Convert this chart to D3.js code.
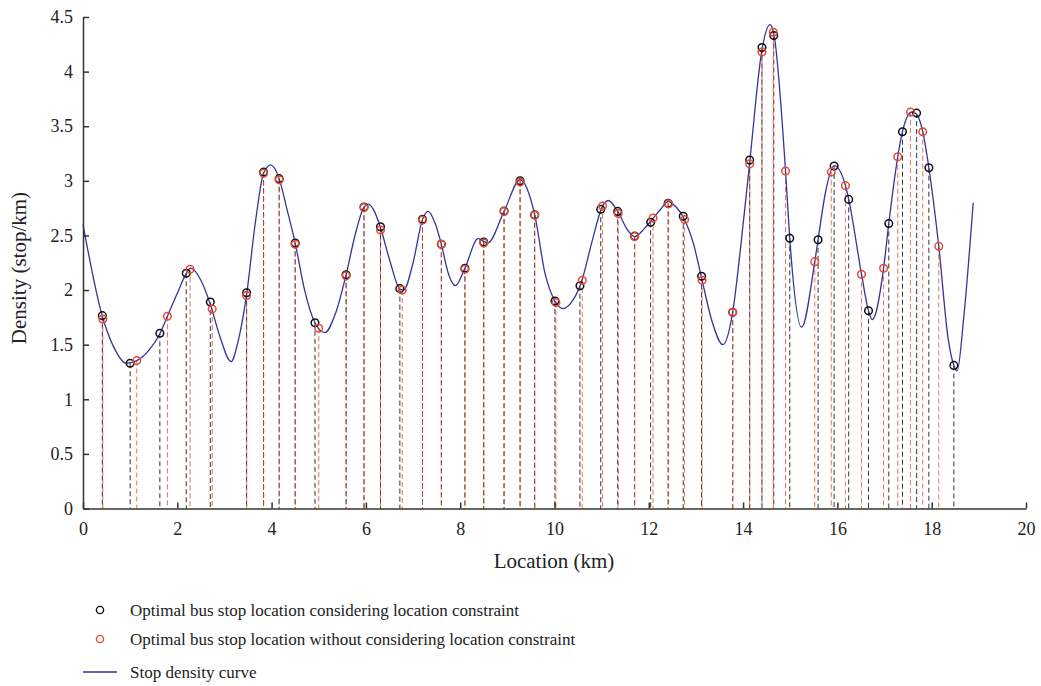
<!DOCTYPE html>
<html><head><meta charset="utf-8">
<script src="https://cdn.jsdelivr.net/npm/d3@7"></script>
<style>body{margin:0;background:#fff;} text{font-family:"Liberation Serif","DejaVu Serif",serif;fill:#222;}</style>
</head><body><svg id="c" width="1041" height="686"></svg>
<script>
const xTicks=[0,2,4,6,8,10,12,14,16,18,20];
const yTicks=[0,0.5,1,1.5,2,2.5,3,3.5,4,4.5];
const yTickLabels=["0","0.5","1","1.5","2","2.5","3","3.5","4","4.5"];
const curveX=[0,0.41,0.65,0.92,1.14,1.40,1.63,1.79,2.00,2.19,2.28,2.50,2.70,2.90,3.14,3.30,3.47,3.65,3.83,3.98,4.16,4.32,4.50,4.70,4.92,5.13,5.35,5.58,5.78,5.96,6.05,6.18,6.31,6.52,6.72,6.80,7.00,7.20,7.32,7.46,7.60,7.75,7.90,8.10,8.38,8.58,8.93,9.27,9.58,9.80,10.01,10.18,10.38,10.56,10.80,11.00,11.14,11.34,11.55,11.70,11.90,12.06,12.25,12.41,12.58,12.74,12.95,13.12,13.35,13.57,13.78,13.95,14.14,14.40,14.57,14.65,14.90,14.99,15.24,15.52,15.59,15.75,15.93,16.17,16.24,16.51,16.66,16.74,16.98,17.09,17.28,17.38,17.58,17.68,17.81,17.94,18.15,18.35,18.47,18.54,18.68,18.88];
const curveY=[2.60,1.76,1.48,1.33,1.354,1.45,1.60,1.76,1.97,2.15,2.20,2.09,1.87,1.58,1.345,1.55,1.96,2.60,3.07,3.146,3.02,2.75,2.43,2.00,1.70,1.61,1.78,2.14,2.52,2.76,2.786,2.72,2.57,2.25,2.01,2.00,2.25,2.645,2.72,2.62,2.42,2.15,2.04,2.20,2.47,2.43,2.72,3.01,2.69,2.15,1.90,1.83,1.90,2.06,2.45,2.75,2.82,2.72,2.55,2.49,2.56,2.64,2.74,2.81,2.76,2.66,2.42,2.11,1.70,1.50,1.80,2.40,3.17,4.20,4.43,4.35,3.09,2.47,1.66,2.26,2.46,2.90,3.14,2.96,2.83,2.15,1.81,1.73,2.20,2.61,3.22,3.45,3.63,3.61,3.45,3.12,2.40,1.55,1.31,1.26,1.75,2.80];
const blackX=[0.41,1.00,1.63,2.19,2.70,3.47,3.83,4.16,4.50,4.92,5.58,5.96,6.31,6.72,7.20,7.60,8.10,8.50,8.93,9.27,9.58,10.01,10.54,10.98,11.34,11.70,12.04,12.41,12.73,13.12,13.78,14.14,14.40,14.65,14.99,15.59,15.93,16.24,16.66,17.09,17.38,17.68,17.94,18.47];
const blackY=[1.766,1.33,1.604,2.154,1.89,1.976,3.08,3.02,2.43,1.70,2.14,2.76,2.58,2.013,2.648,2.42,2.20,2.44,2.724,3.00,2.69,1.90,2.04,2.74,2.72,2.495,2.62,2.795,2.676,2.126,1.797,3.19,4.22,4.33,2.474,2.46,3.136,2.83,1.81,2.61,3.45,3.62,3.12,1.31];
const redX=[0.42,1.14,1.79,2.27,2.74,3.47,3.83,4.16,4.50,5.00,5.58,5.96,6.31,6.77,7.20,7.60,8.10,8.50,8.93,9.27,9.58,10.03,10.59,11.02,11.35,11.70,12.09,12.42,12.76,13.13,13.78,14.14,14.40,14.64,14.90,15.52,15.87,16.17,16.51,16.98,17.28,17.55,17.81,18.15];
const redY=[1.735,1.354,1.76,2.19,1.827,1.95,3.07,3.01,2.42,1.65,2.13,2.755,2.55,2.00,2.64,2.42,2.19,2.43,2.72,2.99,2.685,1.885,2.09,2.77,2.70,2.49,2.66,2.79,2.645,2.09,1.797,3.155,4.18,4.36,3.09,2.26,3.08,2.956,2.145,2.20,3.22,3.63,3.45,2.40];
const legendLabels=["Optimal bus stop location considering location constraint","Optimal bus stop location without considering location constraint","Stop density curve"];

const svg=d3.select("#c");
const x=d3.scaleLinear().domain([0,20]).range([83,1026]);
const y=d3.scaleLinear().domain([0,4.5]).range([508.5,17]);
const black=blackX.map((v,i)=>({x:v,y:blackY[i]}));
const red=redX.map((v,i)=>({x:v,y:redY[i]}));
const curve=curveX.map((v,i)=>({x:v,y:curveY[i]}));
const RED="#ea4a2e", BLK="#111", BLUE="#34349c";

// dashed drop lines
svg.append("g").selectAll("line").data(black).join("line")
 .attr("x1",d=>x(d.x)).attr("x2",d=>x(d.x)).attr("y1",d=>y(d.y)).attr("y2",y(0))
 .attr("stroke","#333").attr("stroke-width",1).attr("stroke-dasharray","5,3");
svg.append("g").selectAll("line").data(red).join("line")
 .attr("x1",d=>x(d.x)).attr("x2",d=>x(d.x)).attr("y1",d=>y(d.y)).attr("y2",y(0))
 .attr("stroke",RED).attr("stroke-opacity",0.8).attr("stroke-width",1).attr("stroke-dasharray","5,3");

// curve
svg.append("path").datum(curve)
 .attr("d",d3.line().x(d=>x(d.x)).y(d=>y(d.y)).curve(d3.curveMonotoneX))
 .attr("fill","none").attr("stroke",BLUE).attr("stroke-width",1.3);

// points
svg.append("g").selectAll("circle").data(black).join("circle")
 .attr("cx",d=>x(d.x)).attr("cy",d=>y(d.y)).attr("r",3.8)
 .attr("fill","none").attr("stroke",BLK).attr("stroke-width",1.5);
svg.append("g").selectAll("circle").data(red).join("circle")
 .attr("cx",d=>x(d.x)).attr("cy",d=>y(d.y)).attr("r",3.8)
 .attr("fill","none").attr("stroke",RED).attr("stroke-width",1.5);

// axes
const xa=svg.append("g").attr("transform",`translate(0,${y(0)})`)
 .call(d3.axisBottom(x).tickValues(xTicks).tickSizeInner(-6).tickSizeOuter(0).tickPadding(14));
const ya=svg.append("g").attr("transform",`translate(${x(0)},0)`)
 .call(d3.axisLeft(y).tickValues(yTicks).tickFormat((d,i)=>yTickLabels[i]).tickSizeInner(-6).tickSizeOuter(0).tickPadding(10));
[xa,ya].forEach(a=>{
  a.select(".domain").attr("stroke","#333").attr("stroke-width",1.5);
  a.selectAll(".tick line").attr("stroke","#333").attr("stroke-width",1.5);
  a.selectAll(".tick text").attr("font-size",18).attr("fill","#222").attr("font-family","Liberation Serif, serif");
});

svg.append("text").attr("x",554).attr("y",568).attr("text-anchor","middle").attr("font-size",21).text("Location (km)");
svg.append("text").attr("transform","translate(26,268) rotate(-90)").attr("text-anchor","middle").attr("font-size",21).text("Density (stop/km)");

// legend
const lg=svg.append("g");
lg.append("circle").attr("cx",100).attr("cy",610).attr("r",3.6).attr("fill","none").attr("stroke",BLK).attr("stroke-width",1.4);
lg.append("circle").attr("cx",100).attr("cy",639).attr("r",3.6).attr("fill","none").attr("stroke",RED).attr("stroke-width",1.4);
lg.append("line").attr("x1",83).attr("x2",117).attr("y1",672).attr("y2",672).attr("stroke",BLUE).attr("stroke-width",1.3);
legendLabels.forEach((t,i)=>{
  lg.append("text").attr("x",130).attr("y",[610,639,672][i]).attr("dy","0.35em").attr("font-size",17).text(t);
});
</script></body></html>
